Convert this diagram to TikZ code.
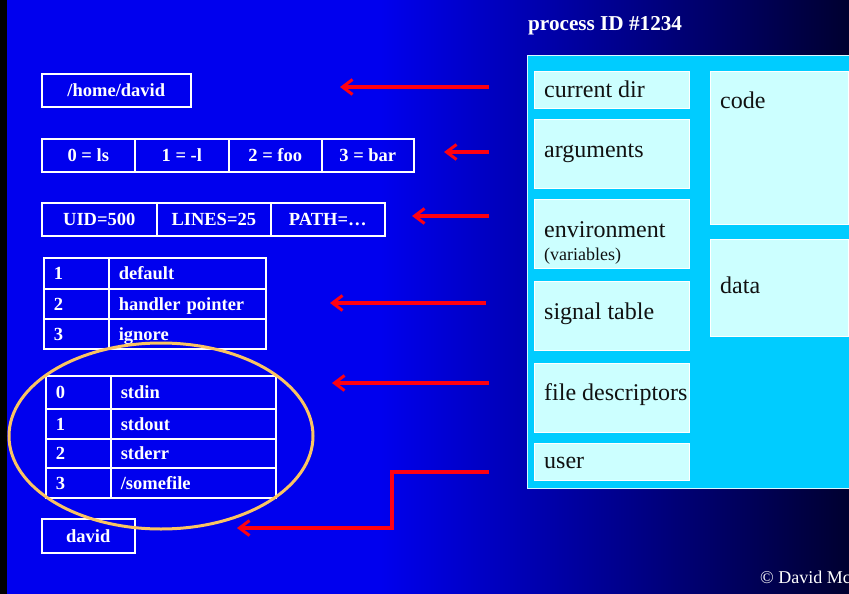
\documentclass[tikz,border=0pt]{standalone}
\usepackage{fontspec}
\setmainfont{Liberation Serif}
\usetikzlibrary{arrows.meta,shapes.geometric}

\definecolor{bgBlue}{RGB}{0,0,238}
\definecolor{bgDark}{RGB}{0,0,48}
\definecolor{procCyan}{RGB}{0,204,255}
\definecolor{slotCyan}{RGB}{204,255,255}
\definecolor{ringOrange}{RGB}{250,196,98}
\definecolor{ptrRed}{RGB}{255,0,16}
\definecolor{textDark}{RGB}{17,17,17}

\tikzset{
  cell/.style={draw=white, line width=1.6pt, text=white, anchor=north west,
    font=\fontsize{18.5}{20}\selectfont\bfseries,
    inner xsep=0pt, inner ysep=0pt, text height=13pt, text depth=0pt},
  tcell/.style={cell, align=left, inner xsep=10pt, text width=#1},
  slot/.style={draw=white, line width=0.8pt, fill=slotCyan, anchor=north west,
    inner sep=0pt},
  slotlabel/.style={anchor=base west, inner sep=0pt, text=textDark,
    font=\fontsize{24}{26}\selectfont},
  pointer/.style={draw=ptrRed, line width=3.3pt,
    -{Straight Barb[length=10pt,width=15pt,line width=3pt]}},
}

\begin{document}
\begin{tikzpicture}[x=1pt,y=-1pt]
\useasboundingbox (0,0) rectangle (849,594);
\clip (0,0) rectangle (849,594);

% slide background
\fill[bgBlue] (0,0) rectangle (849,594);
\shade[left color=bgBlue, right color=bgDark] (380,0) rectangle (849,594);
\fill[black] (0,0) rectangle (7,594);

% process block
\node[anchor=base west, inner sep=0pt, text=white,
  font=\fontsize{21.2}{23}\selectfont\bfseries] (pid) at (528,31) {process ID \#1234};
\node[draw=white!85!procCyan, line width=0.8pt, fill=procCyan, anchor=north west,
  inner sep=0pt, minimum width=340pt, minimum height=433pt] (proc) at (527,55) {};

\node[slot, minimum width=155pt, minimum height=37pt] (cur) at (534,71) {};
\node[slot, minimum width=155pt, minimum height=69pt] (args) at (534,119) {};
\node[slot, minimum width=155pt, minimum height=69pt] (env) at (534,199) {};
\node[slot, minimum width=155pt, minimum height=69pt] (sig) at (534,281) {};
\node[slot, minimum width=155pt, minimum height=69pt] (fds) at (534,363) {};
\node[slot, minimum width=155pt, minimum height=37pt] (usr) at (534,443) {};
\node[slot, minimum width=138pt, minimum height=153pt] (code) at (710,71) {};
\node[slot, minimum width=138pt, minimum height=97pt] (data) at (710,239) {};

\node[slotlabel] (curT) at (544,97) {current dir};
\node[slotlabel] (argsT) at (544,157) {arguments};
\node[slotlabel] (envT) at (544,237) {environment};
\node[slotlabel, font=\fontsize{18}{20}\selectfont] (envV) at (544,260) {(variables)};
\node[slotlabel] (sigT) at (544,319) {signal table};
\node[slotlabel] (fdsT) at (544,400) {file descriptors};
\node[slotlabel] (usrT) at (544,468) {user};
\node[slotlabel] (codeT) at (720,108) {code};
\node[slotlabel] (dataT) at (720,293) {data};

% current directory
\node[cell, minimum width=149pt, minimum height=33pt] (home) at (41,73) {/home/david};

% argument vector
\node[cell, minimum width=93pt, minimum height=33pt] (a0) at (41,138) {0 = ls};
\node[cell, minimum width=94pt, minimum height=33pt] (a1) at (134,138) {1 = -l};
\node[cell, minimum width=93pt, minimum height=33pt] (a2) at (228,138) {2 = foo};
\node[cell, minimum width=92pt, minimum height=33pt] (a3) at (321,138) {3 = bar};

% environment
\node[cell, minimum width=115pt, minimum height=33pt] (e0) at (41,202) {UID=500};
\node[cell, minimum width=114pt, minimum height=33pt] (e1) at (156,202) {LINES=25};
\node[cell, minimum width=114pt, minimum height=33pt] (e2) at (270,202) {PATH=\dots};

% signal table
\node[tcell=45pt, minimum height=31pt] (s1n) at (43,257) {1};
\node[tcell=137pt, minimum height=31pt] (s1v) at (108,257) {default};
\node[tcell=45pt, minimum height=30pt] (s2n) at (43,288) {2};
\node[tcell=137pt, minimum height=30pt] (s2v) at (108,288) {handler pointer};
\node[tcell=45pt, minimum height=30pt] (s3n) at (43,318) {3};
\node[tcell=137pt, minimum height=30pt] (s3v) at (108,318) {ignore};

% file descriptor table
\node[tcell=45pt, minimum height=33pt] (f0n) at (45,375) {0};
\node[tcell=145pt, minimum height=33pt] (f0v) at (110,375) {stdin};
\node[tcell=45pt, minimum height=30pt] (f1n) at (45,408) {1};
\node[tcell=145pt, minimum height=30pt] (f1v) at (110,408) {stdout};
\node[tcell=45pt, minimum height=29pt] (f2n) at (45,438) {2};
\node[tcell=145pt, minimum height=29pt] (f2v) at (110,438) {stderr};
\node[tcell=45pt, minimum height=30pt] (f3n) at (45,467) {3};
\node[tcell=145pt, minimum height=30pt] (f3v) at (110,467) {/somefile};

% user
\node[cell, minimum width=93pt, minimum height=34pt] (who) at (41,518) {david};

% highlight round the descriptor table
\node[draw=ringOrange, line width=3pt, ellipse, inner sep=0pt,
  minimum width=304pt, minimum height=186pt] (ring) at (161,436) {};

% pointers from the process fields
\coordinate (p1) at (489,87);  \coordinate (q1) at (340,87);
\coordinate (p2) at (489,152); \coordinate (q2) at (444,152);
\coordinate (p3) at (489,216); \coordinate (q3) at (412,216);
\coordinate (p4) at (486,303); \coordinate (q4) at (330,303);
\coordinate (p5) at (489,383); \coordinate (q5) at (332,383);
\coordinate (p6) at (489,472); \coordinate (k6) at (392,472);
\coordinate (q6) at (237,528);

\draw[pointer] (p1) -- (q1);
\draw[pointer] (p2) -- (q2);
\draw[pointer] (p3) -- (q3);
\draw[pointer] (p4) -- (q4);
\draw[pointer] (p5) -- (q5);
\draw[pointer] (p6) -- (k6) |- (q6);

% credit line
\node[anchor=base west, inner sep=0pt, text=white,
  font=\fontsize{18}{20}\selectfont] (credit) at (760,583) {\textcopyright{} David Mc};
\end{tikzpicture}
\end{document}
